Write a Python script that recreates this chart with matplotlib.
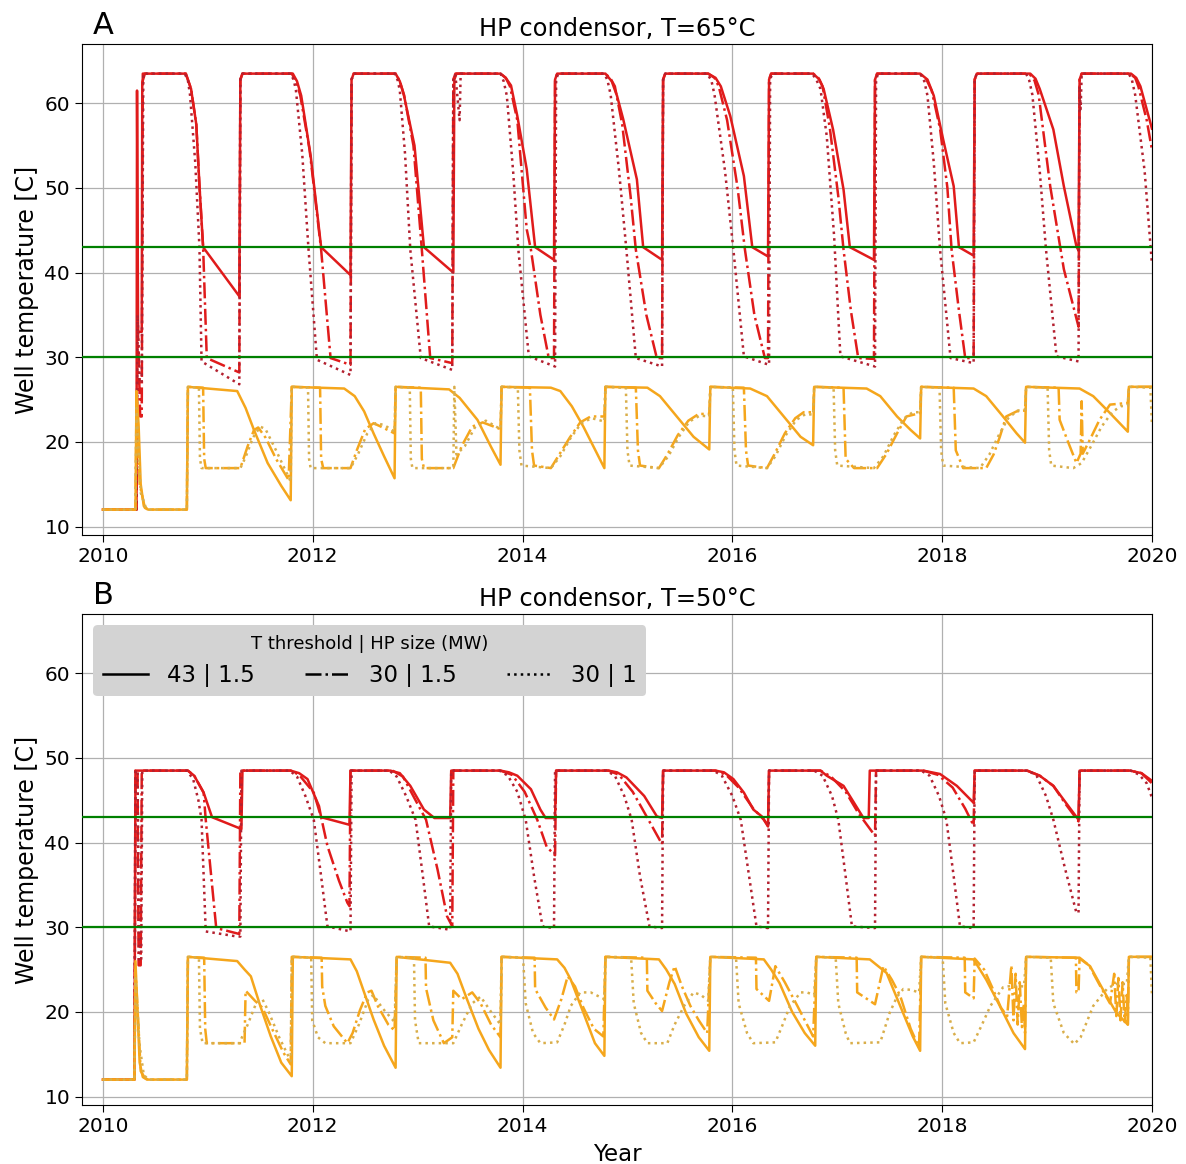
import matplotlib.pyplot as plt
from matplotlib.lines import Line2D

plt.rcParams['font.family'] = 'DejaVu Sans'

# ---------------- panel A: HP condensor 65 C ----------------
# hot well (red), one line per seasonal cycle, (year, temperature)
a_hot_43 = [
    (2010.00, 12.0), (2010.32, 12.0), (2010.325, 61.5), (2010.335, 33.0), (2010.37, 33.0), (2010.375, 62.5), (2010.40, 63.5),
    (2010.79, 63.5), (2010.84, 61.7), (2010.89, 57.5), (2010.92, 50.3), (2010.955, 43.0), (2011.30, 37.2), (2011.31, 62.8), (2011.33, 63.5),
    (2011.81, 63.5), (2011.85, 62.6), (2011.89, 60.9), (2011.98, 53.8), (2012.08, 43.0), (2012.36, 39.7), (2012.37, 62.8), (2012.39, 63.5),
    (2012.79, 63.5), (2012.83, 62.6), (2012.87, 60.9), (2012.97, 55.0), (2013.06, 43.0), (2013.34, 40.0), (2013.35, 62.8), (2013.37, 63.5),
    (2013.79, 63.5), (2013.84, 63.0), (2013.89, 62.1), (2013.95, 58.5), (2014.04, 52.2), (2014.12, 43.0), (2014.30, 41.5), (2014.31, 62.8), (2014.33, 63.5),
    (2014.79, 63.5), (2014.85, 62.6), (2014.90, 60.9), (2014.96, 58.1), (2015.09, 51.0), (2015.15, 43.0), (2015.33, 41.5), (2015.34, 62.8), (2015.36, 63.5),
    (2015.77, 63.5), (2015.84, 63.0), (2015.89, 62.0), (2015.98, 58.5), (2016.11, 51.4), (2016.19, 43.0), (2016.34, 41.9), (2016.35, 62.8), (2016.37, 63.5),
    (2016.77, 63.5), (2016.83, 62.8), (2016.87, 61.7), (2016.96, 56.9), (2017.06, 49.8), (2017.12, 43.0), (2017.35, 41.5), (2017.36, 62.8), (2017.38, 63.5),
    (2017.79, 63.5), (2017.86, 62.8), (2017.92, 60.9), (2018.01, 55.7), (2018.11, 50.2), (2018.16, 43.0), (2018.30, 42.0), (2018.31, 62.8), (2018.33, 63.5),
    (2018.84, 63.5), (2018.89, 62.9), (2018.93, 61.7), (2019.06, 56.9), (2019.16, 50.2), (2019.28, 43.1), (2019.30, 42.6), (2019.31, 62.8), (2019.33, 63.5),
    (2019.80, 63.5), (2019.85, 63.0), (2019.89, 62.0), (2020.00, 57.0),
]
a_hot_30_15 = [
    (2010.00, 12.0), (2010.32, 12.0), (2010.33, 35.0), (2010.355, 23.0), (2010.37, 23.0), (2010.38, 63.5),
    (2010.79, 63.5), (2010.84, 61.7), (2010.89, 57.5), (2010.92, 50.3), (2010.955, 43.0), (2010.99, 29.9), (2011.30, 28.2), (2011.31, 62.8), (2011.33, 63.5),
    (2011.80, 63.5), (2011.84, 62.6), (2011.88, 61.0), (2011.97, 54.5), (2012.08, 42.7), (2012.17, 29.9), (2012.36, 29.1), (2012.37, 62.8), (2012.39, 63.5),
    (2012.79, 63.5), (2012.83, 62.6), (2012.87, 61.0), (2012.96, 55.0), (2013.04, 42.7), (2013.12, 29.9), (2013.33, 29.3), (2013.34, 62.8), (2013.36, 63.5),
    (2013.79, 63.5), (2013.84, 63.0), (2013.88, 62.0), (2013.95, 58.0), (2014.04, 45.1), (2014.08, 42.7), (2014.17, 35.0), (2014.25, 29.9), (2014.30, 29.9), (2014.31, 62.8), (2014.33, 63.5),
    (2014.79, 63.5), (2014.84, 62.9), (2014.88, 62.0), (2014.95, 57.5), (2015.03, 49.0), (2015.08, 42.7), (2015.18, 35.0), (2015.28, 29.9), (2015.33, 29.9), (2015.34, 62.8), (2015.36, 63.5),
    (2015.77, 63.5), (2015.83, 63.0), (2015.87, 62.0), (2015.95, 58.0), (2016.05, 50.0), (2016.12, 42.7), (2016.21, 35.0), (2016.31, 29.9), (2016.34, 29.9), (2016.35, 62.8), (2016.37, 63.5),
    (2016.77, 63.5), (2016.82, 63.0), (2016.86, 62.0), (2016.93, 57.0), (2017.01, 49.0), (2017.06, 42.7), (2017.13, 35.5), (2017.20, 29.9), (2017.35, 29.8), (2017.36, 62.8), (2017.38, 63.5),
    (2017.79, 63.5), (2017.85, 62.8), (2017.90, 61.5), (2017.98, 57.0), (2018.05, 50.0), (2018.09, 42.7), (2018.16, 35.5), (2018.22, 29.9), (2018.30, 29.9), (2018.31, 62.8), (2018.33, 63.5),
    (2018.83, 63.5), (2018.88, 62.7), (2018.92, 61.0), (2019.03, 50.2), (2019.16, 40.4), (2019.30, 33.6), (2019.31, 62.8), (2019.33, 63.5),
    (2019.79, 63.5), (2019.84, 63.0), (2019.87, 62.0), (2019.95, 58.0), (2020.00, 54.5),
]
a_hot_30_10 = [
    (2010.00, 12.0), (2010.32, 12.0), (2010.33, 35.0), (2010.35, 27.0), (2010.37, 27.0), (2010.385, 63.5),
    (2010.78, 63.5), (2010.81, 62.7), (2010.83, 61.0), (2010.88, 53.0), (2010.92, 43.0), (2010.94, 29.5), (2011.30, 26.8), (2011.31, 62.8), (2011.33, 63.5),
    (2011.79, 63.5), (2011.82, 62.7), (2011.84, 61.5), (2011.90, 54.0), (2011.96, 42.7), (2012.04, 29.7), (2012.36, 27.9), (2012.37, 62.8), (2012.39, 63.5),
    (2012.78, 63.5), (2012.81, 62.7), (2012.83, 61.5), (2012.88, 54.0), (2012.93, 42.7), (2013.03, 29.9), (2013.33, 28.5), (2013.34, 63.3), (2013.36, 63.3), (2013.40, 58.0), (2013.41, 63.5),
    (2013.79, 63.5), (2013.82, 62.6), (2013.85, 60.9), (2013.91, 52.0), (2013.96, 42.7), (2014.06, 30.1), (2014.31, 28.9), (2014.32, 62.8), (2014.34, 63.5),
    (2014.78, 63.5), (2014.81, 62.7), (2014.84, 61.0), (2014.92, 52.0), (2014.99, 42.7), (2015.08, 29.9), (2015.33, 28.9), (2015.34, 62.8), (2015.36, 63.5),
    (2015.76, 63.5), (2015.80, 62.7), (2015.83, 61.0), (2015.93, 52.0), (2016.01, 42.7), (2016.11, 30.1), (2016.35, 29.1), (2016.36, 62.8), (2016.38, 63.5),
    (2016.76, 63.5), (2016.80, 62.8), (2016.84, 61.7), (2016.90, 56.1), (2016.97, 44.3), (2017.03, 30.1), (2017.36, 28.9), (2017.37, 62.8), (2017.39, 63.5),
    (2017.79, 63.5), (2017.83, 62.6), (2017.86, 60.9), (2017.92, 53.0), (2017.98, 42.7), (2018.08, 29.9), (2018.30, 29.3), (2018.31, 62.8), (2018.33, 63.5),
    (2018.80, 63.5), (2018.83, 62.7), (2018.86, 61.0), (2018.93, 52.0), (2018.99, 42.7), (2019.09, 30.1), (2019.30, 29.5), (2019.31, 62.0), (2019.32, 59.3), (2019.33, 63.5),
    (2019.78, 63.5), (2019.81, 62.7), (2019.84, 61.0), (2019.93, 52.0), (2020.00, 41.0),
]
# cold well (orange)
a_cold_43 = [
    (2010.00, 12.0), (2010.31, 12.0), (2010.32, 26.0), (2010.34, 22.0), (2010.36, 15.0), (2010.39, 12.4), (2010.43, 12.0), (2010.80, 12.0),
    (2010.81, 26.5), (2011.28, 26.0), (2011.36, 24.0), (2011.44, 21.4), (2011.57, 17.5), (2011.70, 14.8), (2011.79, 13.1),
    (2011.80, 26.5), (2012.30, 26.3), (2012.40, 25.4), (2012.49, 23.6), (2012.58, 21.0), (2012.68, 18.3), (2012.78, 15.7),
    (2012.79, 26.5), (2013.30, 26.2), (2013.40, 25.2), (2013.57, 22.6), (2013.70, 19.4), (2013.79, 17.3),
    (2013.80, 26.5), (2014.27, 26.4), (2014.36, 26.0), (2014.47, 24.2), (2014.58, 21.8), (2014.78, 16.9),
    (2014.79, 26.5), (2015.19, 26.4), (2015.31, 25.4), (2015.47, 23.0), (2015.63, 20.6), (2015.78, 19.1),
    (2015.79, 26.5), (2016.17, 26.3), (2016.33, 25.4), (2016.49, 23.0), (2016.65, 20.6), (2016.77, 19.6),
    (2016.78, 26.5), (2017.28, 26.3), (2017.41, 25.4), (2017.57, 23.0), (2017.70, 21.4), (2017.79, 20.4),
    (2017.80, 26.5), (2018.30, 26.3), (2018.42, 25.4), (2018.58, 23.0), (2018.71, 21.0), (2018.79, 19.9),
    (2018.80, 26.5), (2019.31, 26.3), (2019.44, 25.4), (2019.60, 23.4), (2019.77, 21.2),
    (2019.78, 26.5), (2020.00, 26.5),
]
a_cold_30_15 = [
    (2010.00, 12.0), (2010.31, 12.0), (2010.32, 25.0), (2010.35, 15.0), (2010.40, 12.2), (2010.43, 12.0), (2010.80, 12.0),
    (2010.81, 26.5), (2010.955, 26.4), (2010.965, 18.0), (2010.98, 16.9), (2011.31, 16.9), (2011.38, 19.5), (2011.44, 21.4), (2011.48, 21.7), (2011.55, 20.5), (2011.65, 18.0), (2011.77, 15.5),
    (2011.80, 26.5), (2012.07, 26.4), (2012.08, 18.0), (2012.10, 16.9), (2012.36, 16.9), (2012.42, 19.0), (2012.50, 21.5), (2012.58, 22.2), (2012.65, 21.8), (2012.78, 21.0),
    (2012.79, 26.5), (2013.03, 26.4), (2013.04, 18.0), (2013.06, 16.9), (2013.34, 16.9), (2013.42, 19.5), (2013.52, 21.8), (2013.62, 22.3), (2013.79, 21.5),
    (2013.80, 26.5), (2014.07, 26.4), (2014.09, 19.0), (2014.11, 17.2), (2014.27, 16.9), (2014.35, 18.5), (2014.45, 20.5), (2014.55, 22.3), (2014.65, 23.0), (2014.78, 23.0),
    (2014.79, 26.5), (2015.08, 26.4), (2015.10, 19.0), (2015.12, 17.2), (2015.30, 16.9), (2015.38, 18.5), (2015.48, 20.8), (2015.58, 22.5), (2015.68, 23.3), (2015.78, 23.3),
    (2015.79, 26.5), (2016.11, 26.4), (2016.13, 19.0), (2016.15, 17.2), (2016.33, 16.9), (2016.40, 18.5), (2016.50, 21.0), (2016.60, 22.8), (2016.68, 23.5), (2016.77, 23.5),
    (2016.78, 26.5), (2017.06, 26.4), (2017.08, 18.0), (2017.16, 16.9), (2017.38, 16.9), (2017.47, 18.6), (2017.57, 21.0), (2017.66, 23.0), (2017.79, 23.4),
    (2017.80, 26.5), (2018.11, 26.4), (2018.13, 19.0), (2018.20, 16.9), (2018.42, 16.9), (2018.49, 18.5), (2018.55, 20.6), (2018.61, 23.0), (2018.71, 23.6), (2018.79, 23.7),
    (2018.80, 26.5), (2019.11, 26.4), (2019.12, 22.6), (2019.20, 20.0), (2019.28, 17.5), (2019.32, 18.6), (2019.33, 24.8), (2019.34, 18.6), (2019.41, 20.3), (2019.50, 22.6), (2019.60, 24.4), (2019.77, 24.6),
    (2019.78, 26.5), (2020.00, 26.5),
]
a_cold_30_10 = [
    (2010.00, 12.0), (2010.31, 12.0), (2010.32, 24.0), (2010.36, 14.0), (2010.41, 12.2), (2010.44, 12.0), (2010.80, 12.0),
    (2010.81, 26.5), (2010.915, 26.4), (2010.925, 18.0), (2010.94, 16.9), (2011.31, 16.9), (2011.36, 18.2), (2011.43, 20.5), (2011.50, 21.8), (2011.55, 21.5), (2011.65, 19.0), (2011.79, 15.3),
    (2011.80, 26.5), (2011.955, 26.4), (2011.965, 18.0), (2011.98, 16.9), (2012.36, 16.9), (2012.43, 18.5), (2012.52, 21.0), (2012.60, 22.2), (2012.68, 22.0), (2012.78, 21.2),
    (2012.79, 26.5), (2012.925, 26.4), (2012.935, 18.0), (2012.95, 16.9), (2013.34, 16.9), (2013.35, 26.5), (2013.37, 18.5), (2013.45, 19.5), (2013.55, 21.8), (2013.65, 22.5), (2013.79, 21.5),
    (2013.80, 26.5), (2013.955, 26.4), (2013.97, 19.0), (2013.99, 17.2), (2014.27, 16.9), (2014.36, 18.3), (2014.46, 20.5), (2014.56, 22.2), (2014.66, 22.8), (2014.78, 22.4),
    (2014.79, 26.5), (2014.985, 26.4), (2015.00, 19.0), (2015.02, 17.2), (2015.30, 16.9), (2015.39, 18.3), (2015.49, 20.6), (2015.59, 22.4), (2015.69, 23.1), (2015.78, 23.0),
    (2015.79, 26.5), (2016.005, 26.4), (2016.02, 19.0), (2016.04, 17.2), (2016.33, 16.9), (2016.41, 18.3), (2016.51, 20.8), (2016.61, 22.6), (2016.70, 23.3), (2016.77, 23.2),
    (2016.78, 26.5), (2016.965, 26.4), (2016.98, 19.0), (2017.00, 17.2), (2017.35, 16.9), (2017.44, 18.3), (2017.54, 20.8), (2017.64, 22.8), (2017.72, 23.5), (2017.79, 23.5),
    (2017.80, 26.5), (2017.975, 26.4), (2017.99, 19.0), (2018.01, 17.2), (2018.36, 16.9), (2018.45, 18.5), (2018.54, 20.8), (2018.63, 22.8), (2018.72, 23.7), (2018.79, 23.8),
    (2018.80, 26.5), (2019.005, 26.4), (2019.02, 19.0), (2019.04, 17.2), (2019.25, 16.9), (2019.33, 17.5), (2019.42, 19.5), (2019.52, 21.8), (2019.62, 23.5), (2019.70, 24.2), (2019.77, 24.3),
    (2019.78, 26.5), (2019.985, 26.4), (2020.00, 22.0),
]

# ---------------- panel B: HP condensor 50 C ----------------
b_hot_43 = [
    (2010.00, 12.0), (2010.30, 12.0), (2010.31, 48.5),
    (2010.81, 48.5), (2010.87, 47.9), (2010.96, 45.9), (2011.04, 43.0), (2011.32, 41.6), (2011.33, 48.5),
    (2011.79, 48.5), (2011.87, 48.2), (2011.95, 47.5), (2012.06, 44.3), (2012.08, 43.0), (2012.35, 42.1), (2012.36, 48.5),
    (2012.74, 48.5), (2012.83, 48.2), (2012.93, 46.7), (2013.06, 43.9), (2013.16, 42.9), (2013.31, 42.9), (2013.32, 48.5),
    (2013.79, 48.5), (2013.87, 48.3), (2013.95, 47.9), (2014.08, 46.3), (2014.17, 43.9), (2014.22, 42.9), (2014.31, 42.9), (2014.32, 48.5),
    (2014.82, 48.5), (2014.90, 48.3), (2014.99, 47.7), (2015.16, 45.5), (2015.28, 43.1), (2015.33, 42.9), (2015.34, 48.5),
    (2015.84, 48.5), (2015.92, 48.3), (2016.01, 47.5), (2016.11, 45.9), (2016.20, 43.9), (2016.28, 43.1), (2016.34, 42.0), (2016.35, 48.5),
    (2016.84, 48.5), (2016.90, 47.9), (2017.06, 46.7), (2017.16, 44.7), (2017.25, 42.9), (2017.30, 42.9), (2017.31, 48.5),
    (2017.82, 48.5), (2017.98, 48.1), (2018.14, 46.7), (2018.30, 44.7), (2018.31, 48.5),
    (2018.81, 48.5), (2018.93, 47.9), (2019.06, 46.7), (2019.18, 44.7), (2019.30, 42.7), (2019.31, 48.5),
    (2019.79, 48.5), (2019.90, 48.2), (2020.00, 47.3),
]
b_hot_30_15 = [
    (2010.00, 12.0), (2010.30, 12.0), (2010.31, 48.5), (2010.33, 48.5), (2010.34, 25.5), (2010.36, 25.5), (2010.37, 48.5),
    (2010.81, 48.5), (2010.87, 47.9), (2010.96, 45.9), (2010.98, 42.7), (2011.08, 29.9), (2011.30, 29.2), (2011.31, 48.5),
    (2011.79, 48.5), (2011.87, 48.0), (2012.01, 45.9), (2012.08, 43.0), (2012.14, 39.6), (2012.25, 35.5), (2012.33, 32.9), (2012.35, 32.5), (2012.36, 48.5),
    (2012.76, 48.5), (2012.86, 47.8), (2012.98, 45.0), (2013.08, 42.7), (2013.19, 36.8), (2013.28, 31.3), (2013.33, 30.1), (2013.34, 48.5),
    (2013.79, 48.5), (2013.90, 48.0), (2014.02, 46.0), (2014.14, 42.7), (2014.23, 39.5), (2014.31, 38.5), (2014.32, 48.5),
    (2014.82, 48.5), (2014.92, 48.0), (2015.05, 46.0), (2015.20, 42.7), (2015.33, 39.8), (2015.34, 48.5),
    (2015.84, 48.5), (2015.94, 48.0), (2016.06, 46.5), (2016.20, 44.0), (2016.30, 42.7), (2016.34, 41.9), (2016.35, 48.5),
    (2016.84, 48.5), (2016.94, 47.8), (2017.08, 46.0), (2017.20, 43.5), (2017.36, 40.8), (2017.37, 48.5),
    (2017.82, 48.5), (2017.96, 48.0), (2018.10, 46.5), (2018.22, 44.0), (2018.30, 42.0), (2018.31, 48.5),
    (2018.81, 48.5), (2018.93, 47.9), (2019.06, 46.7), (2019.18, 44.5), (2019.30, 42.5), (2019.31, 48.5),
    (2019.79, 48.5), (2019.90, 48.2), (2020.00, 47.0),
]
b_hot_30_10 = [
    (2010.00, 12.0), (2010.30, 12.0), (2010.31, 48.5), (2010.33, 48.5), (2010.345, 26.0), (2010.365, 26.0), (2010.375, 48.5),
    (2010.80, 48.5), (2010.86, 47.5), (2010.91, 45.0), (2010.94, 42.7), (2010.98, 29.5), (2011.28, 28.9), (2011.31, 28.9), (2011.32, 48.5),
    (2011.78, 48.5), (2011.85, 47.8), (2011.93, 45.5), (2012.01, 42.7), (2012.08, 36.0), (2012.14, 30.1), (2012.36, 29.5), (2012.37, 48.5),
    (2012.73, 48.5), (2012.80, 47.8), (2012.89, 45.5), (2012.98, 42.7), (2013.05, 36.0), (2013.11, 30.1), (2013.31, 29.7), (2013.32, 48.5),
    (2013.78, 48.5), (2013.86, 47.9), (2013.95, 46.0), (2014.03, 42.7), (2014.11, 36.0), (2014.19, 30.1), (2014.30, 29.9), (2014.31, 48.5),
    (2014.80, 48.5), (2014.88, 47.9), (2014.97, 45.5), (2015.04, 42.7), (2015.12, 36.0), (2015.21, 30.1), (2015.33, 29.9), (2015.34, 48.5),
    (2015.82, 48.5), (2015.90, 47.9), (2016.00, 45.5), (2016.08, 42.7), (2016.16, 36.0), (2016.23, 30.1), (2016.34, 29.9), (2016.35, 48.5),
    (2016.78, 48.5), (2016.86, 47.9), (2016.95, 45.5), (2017.01, 42.7), (2017.08, 36.0), (2017.14, 30.1), (2017.36, 29.9), (2017.37, 48.5),
    (2017.80, 48.5), (2017.88, 47.9), (2017.97, 45.5), (2018.04, 42.7), (2018.11, 36.0), (2018.17, 30.1), (2018.30, 29.9), (2018.31, 48.5),
    (2018.82, 48.5), (2018.90, 47.9), (2018.99, 45.5), (2019.06, 42.7), (2019.17, 37.0), (2019.28, 31.7), (2019.30, 31.7), (2019.31, 48.5),
    (2019.80, 48.5), (2019.88, 48.0), (2019.95, 47.0), (2020.00, 45.3),
]
b_cold_43 = [
    (2010.00, 12.0), (2010.30, 12.0), (2010.31, 26.0), (2010.33, 20.0), (2010.35, 14.0), (2010.38, 12.3), (2010.42, 12.0), (2010.80, 12.0),
    (2010.81, 26.5), (2011.28, 26.0), (2011.35, 25.0), (2011.41, 24.2), (2011.50, 20.7), (2011.60, 17.1), (2011.70, 14.0), (2011.80, 12.4),
    (2011.81, 26.5), (2012.36, 26.2), (2012.42, 24.8), (2012.49, 22.3), (2012.58, 19.1), (2012.68, 16.0), (2012.79, 13.4),
    (2012.80, 26.5), (2013.31, 25.8), (2013.38, 24.5), (2013.47, 21.5), (2013.58, 18.0), (2013.68, 15.5), (2013.79, 13.4),
    (2013.80, 26.5), (2014.33, 26.2), (2014.40, 25.2), (2014.46, 23.8), (2014.58, 19.9), (2014.69, 16.3), (2014.78, 14.8),
    (2014.79, 26.5), (2015.30, 26.2), (2015.37, 25.0), (2015.45, 23.3), (2015.56, 19.8), (2015.68, 17.0), (2015.78, 15.4),
    (2015.79, 26.5), (2016.30, 26.2), (2016.37, 25.0), (2016.45, 23.4), (2016.57, 20.0), (2016.69, 17.5), (2016.79, 16.0),
    (2016.80, 26.5), (2017.31, 26.2), (2017.47, 24.6), (2017.60, 20.7), (2017.72, 17.1), (2017.79, 15.4),
    (2017.80, 26.5), (2018.30, 26.2), (2018.42, 23.8), (2018.55, 20.7), (2018.68, 17.5), (2018.79, 15.6),
    (2018.80, 26.5), (2019.30, 26.4), (2019.41, 25.4), (2019.53, 22.7), (2019.66, 19.9), (2019.77, 18.5),
    (2019.78, 26.5), (2020.00, 26.5),
]
b_cold_30_15 = [
    (2010.00, 12.0), (2010.30, 12.0), (2010.31, 25.0), (2010.34, 18.0), (2010.36, 13.0), (2010.40, 12.2), (2010.43, 12.0), (2010.80, 12.0),
    (2010.81, 26.5), (2010.965, 26.4), (2010.975, 18.0), (2010.99, 16.3), (2011.35, 16.3), (2011.36, 22.5), (2011.45, 21.3), (2011.52, 20.5), (2011.62, 17.8), (2011.72, 15.2), (2011.79, 13.8),
    (2011.80, 26.5), (2012.085, 26.4), (2012.09, 23.0), (2012.12, 20.7), (2012.20, 18.3), (2012.33, 16.3), (2012.38, 17.5), (2012.45, 20.2), (2012.52, 22.3), (2012.56, 22.5), (2012.62, 20.7), (2012.72, 18.5), (2012.78, 17.8),
    (2012.80, 26.5), (2013.075, 26.4), (2013.08, 22.8), (2013.15, 19.0), (2013.25, 16.3), (2013.33, 17.0), (2013.34, 22.5), (2013.42, 21.5), (2013.52, 22.3), (2013.60, 21.0), (2013.70, 18.5), (2013.79, 17.0),
    (2013.80, 26.5), (2014.115, 26.4), (2014.12, 22.7), (2014.22, 20.5), (2014.30, 19.1), (2014.37, 21.5), (2014.43, 24.2), (2014.50, 23.0), (2014.58, 20.5), (2014.68, 18.0), (2014.77, 17.1),
    (2014.79, 26.5), (2015.185, 26.4), (2015.19, 22.5), (2015.27, 21.0), (2015.33, 20.1), (2015.40, 23.5), (2015.45, 25.4), (2015.52, 23.0), (2015.60, 20.7), (2015.68, 19.0), (2015.76, 17.5),
    (2015.79, 26.5), (2016.225, 26.4), (2016.23, 22.7), (2016.35, 21.3), (2016.41, 25.4), (2016.50, 23.5), (2016.62, 20.7), (2016.77, 17.1),
    (2016.80, 26.5), (2017.185, 26.4), (2017.19, 22.3), (2017.36, 20.9), (2017.44, 25.4), (2017.52, 23.8), (2017.60, 21.9), (2017.70, 18.0), (2017.78, 15.8),
    (2017.80, 26.5), (2018.215, 26.4), (2018.22, 22.3), (2018.30, 21.6), (2018.31, 26.3), (2018.40, 25.0), (2018.48, 22.8), (2018.56, 20.5), (2018.62, 19.5),
    (2018.66, 25.5), (2018.68, 19.0), (2018.70, 24.5), (2018.72, 18.5), (2018.74, 23.5), (2018.76, 18.2), (2018.78, 21.0), (2018.79, 17.5),
    (2018.80, 26.5), (2019.275, 26.4), (2019.28, 22.3), (2019.30, 22.3), (2019.31, 26.4), (2019.40, 25.5), (2019.50, 23.2), (2019.60, 21.0),
    (2019.64, 24.5), (2019.66, 19.5), (2019.68, 24.0), (2019.70, 19.0), (2019.72, 23.5), (2019.74, 18.8), (2019.76, 22.0), (2019.77, 18.5),
    (2019.78, 26.5), (2020.00, 26.5),
]
b_cold_30_10 = [
    (2010.00, 12.0), (2010.30, 12.0), (2010.31, 24.0), (2010.35, 16.0), (2010.39, 12.5), (2010.44, 12.0), (2010.80, 12.0),
    (2010.81, 26.5), (2010.915, 26.4), (2010.925, 18.0), (2010.95, 16.3), (2011.30, 16.3), (2011.38, 18.5), (2011.46, 21.0), (2011.52, 21.5), (2011.58, 20.0), (2011.68, 17.0), (2011.79, 14.2),
    (2011.80, 26.5), (2011.985, 26.4), (2011.995, 19.0), (2012.05, 17.0), (2012.12, 16.3), (2012.36, 16.3), (2012.44, 18.5), (2012.53, 21.5), (2012.58, 22.0), (2012.66, 20.5), (2012.78, 18.8),
    (2012.80, 26.5), (2012.965, 26.4), (2012.975, 19.0), (2013.01, 16.3), (2013.34, 16.3), (2013.42, 18.5), (2013.52, 21.0), (2013.60, 21.8), (2013.70, 20.0), (2013.79, 18.5),
    (2013.80, 26.5), (2014.005, 26.4), (2014.03, 21.0), (2014.10, 17.5), (2014.17, 16.3), (2014.33, 16.4), (2014.40, 18.5), (2014.46, 20.7), (2014.55, 22.3), (2014.65, 22.3), (2014.78, 21.5),
    (2014.79, 26.5), (2015.035, 26.4), (2015.06, 21.0), (2015.13, 17.5), (2015.19, 16.3), (2015.38, 16.3), (2015.45, 18.5), (2015.54, 20.7), (2015.63, 22.3), (2015.70, 22.0), (2015.77, 21.3),
    (2015.79, 26.5), (2016.035, 26.4), (2016.06, 21.0), (2016.14, 17.5), (2016.20, 16.3), (2016.41, 16.4), (2016.48, 18.5), (2016.55, 20.7), (2016.65, 22.3), (2016.71, 22.3), (2016.78, 22.0),
    (2016.80, 26.5), (2016.985, 26.4), (2017.01, 21.0), (2017.08, 17.5), (2017.12, 16.3), (2017.41, 16.4), (2017.50, 19.9), (2017.57, 21.8), (2017.63, 22.7), (2017.70, 22.6), (2017.78, 22.3),
    (2017.80, 26.5), (2018.005, 26.4), (2018.03, 21.0), (2018.11, 17.5), (2018.17, 16.3), (2018.30, 16.4), (2018.38, 18.5), (2018.46, 20.7), (2018.58, 22.9), (2018.67, 23.1), (2018.78, 23.0),
    (2018.80, 26.5), (2019.035, 26.4), (2019.06, 21.0), (2019.16, 17.5), (2019.26, 16.2), (2019.32, 17.0), (2019.44, 20.7), (2019.57, 22.7), (2019.65, 23.3), (2019.76, 23.3),
    (2019.78, 26.5), (2019.985, 26.4), (2020.00, 22.0),
]

scenario_labels = ['43 | 1.5', '30 | 1.5', '30 | 1']
line_styles = ['-', '-.', ':']
thresholds = [43, 30]
red = '#e01b1b'
red_dot = '#b3202f'
orange = '#f5a61c'
orange_dot = '#d9ae4a'

fig = plt.figure(figsize=(11.86, 11.64), dpi=100)
ax_a = fig.add_axes([0.0691, 0.5404, 0.9022, 0.4218])
ax_b = fig.add_axes([0.0691, 0.0507, 0.9022, 0.4218])

panels = [
    (ax_a, [a_hot_43, a_hot_30_15, a_hot_30_10], [a_cold_43, a_cold_30_15, a_cold_30_10], 'HP condensor, T=65°C', 'A'),
    (ax_b, [b_hot_43, b_hot_30_15, b_hot_30_10], [b_cold_43, b_cold_30_15, b_cold_30_10], 'HP condensor, T=50°C', 'B'),
]

for ax, hot, cold, title, tag in panels:
    for series, ls in zip(hot, line_styles):
        x, y = zip(*series)
        ax.plot(x, y, color=red_dot if ls == ':' else red, ls=ls, lw=1.8, zorder=3)
    for series, ls in zip(cold, line_styles):
        x, y = zip(*series)
        ax.plot(x, y, color=orange_dot if ls == ':' else orange, ls=ls, lw=1.8, zorder=3)
    for t in thresholds:
        ax.axhline(t, color='green', lw=1.6, zorder=4)
    ax.set_xlim(2009.8, 2020.0)
    ax.set_ylim(9.0, 67.0)
    ax.set_xticks(range(2010, 2021, 2))
    ax.set_yticks(range(10, 61, 10))
    ax.tick_params(labelsize=14.5, length=5)
    ax.grid(True, color='#b0b0b0', lw=0.9)
    ax.set_axisbelow(True)
    ax.set_ylabel('Well temperature [C]', fontsize=17)
    ax.set_title(title, fontsize=17.4, pad=6)
    ax.text(0.01, 1.008, tag, transform=ax.transAxes, fontsize=22, va='bottom', ha='left')

ax_b.set_xlabel('Year', fontsize=16.5, labelpad=5)

handles = [Line2D([], [], color='black', ls=ls, lw=1.8) for ls in line_styles]
leg = ax_b.legend(handles, scenario_labels, title='T threshold | HP size (MW)', ncol=3,
                  loc='upper left', fontsize=16.5, title_fontsize=13, handlelength=2.0,
                  columnspacing=2.2, handletextpad=0.8, facecolor='#d3d3d3', edgecolor='none',
                  framealpha=1.0, fancybox=True)
leg.set_zorder(5)

fig.savefig('out.png', dpi=100)
